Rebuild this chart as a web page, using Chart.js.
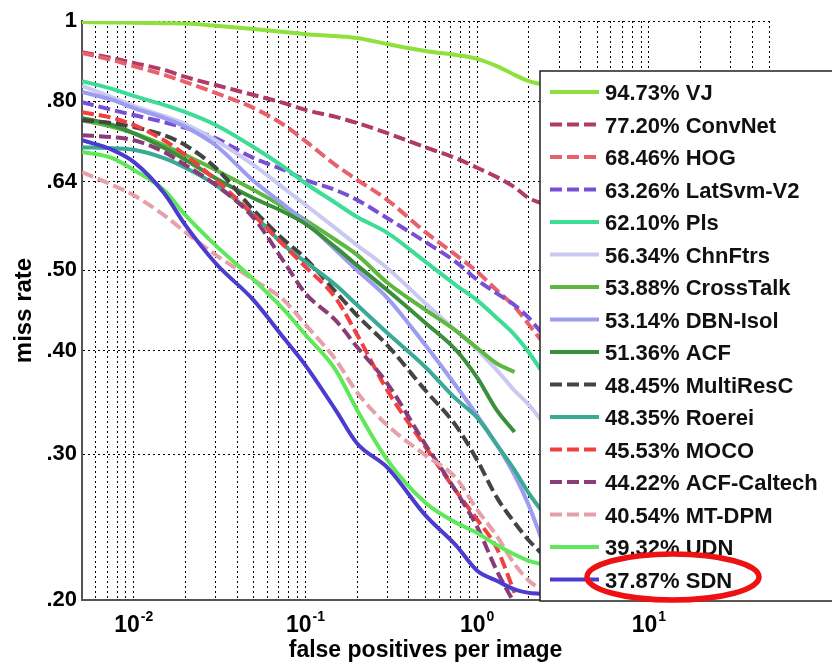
<!DOCTYPE html>
<html>
<head>
<meta charset="utf-8">
<title>Caltech ROC - miss rate vs FPPI</title>
<script src="https://cdn.jsdelivr.net/npm/chart.js@4.4.0/dist/chart.umd.min.js"></script>
<style>
  html, body { margin: 0; padding: 0; background: #fff; }
  #wrap { width: 832px; height: 667px; }
</style>
</head>
<body>
<div id="wrap"><canvas id="rocChart" width="832" height="667"></canvas></div>
<script>
// sample positions on the x axis (false positives per image)
const fppi = [0.005, 0.0075, 0.01, 0.015, 0.02, 0.03, 0.05, 0.075, 0.1, 0.15, 0.2, 0.3, 0.5, 0.75, 1, 1.3, 1.65, 2, 2.35];

const methods = ['VJ', 'ConvNet', 'HOG', 'LatSvm-V2', 'Pls', 'ChnFtrs', 'CrossTalk', 'DBN-Isol',
  'ACF', 'MultiResC', 'Roerei', 'MOCO', 'ACF-Caltech', 'MT-DPM', 'UDN', 'SDN'];
const logAvgMiss = [94.73, 77.20, 68.46, 63.26, 62.10, 56.34, 53.88, 53.14,
  51.36, 48.45, 48.35, 45.53, 44.22, 40.54, 39.32, 37.87];
const lineColors = ['#8ee03c', '#b03a6a', '#e8606a', '#7a4fd8', '#3ddc97', '#c9c9f2', '#5cb840', '#9c9cf0',
  '#3a8f3a', '#444444', '#3aaa94', '#f04040', '#8a3c78', '#e6a0aa', '#5ee85a', '#4b3ccf'];
const dashed = [false, true, true, true, false, false, false, false,
  false, true, false, true, true, true, false, false];

// miss rate per method at each fppi sample (null = curve already ended)
const missVJ        = [0.997, 0.996, 0.995, 0.994, 0.993, 0.987, 0.978, 0.970, 0.964, 0.959, 0.954, 0.938, 0.920, 0.910, 0.900, 0.882, 0.861, 0.846, 0.839];
const missConvNet   = [0.917, 0.902, 0.890, 0.873, 0.856, 0.837, 0.814, 0.796, 0.781, 0.766, 0.753, 0.732, 0.704, 0.683, 0.665, 0.648, 0.630, 0.611, 0.603];
const missHOG       = [0.915, 0.897, 0.882, 0.861, 0.844, 0.819, 0.785, 0.749, 0.716, 0.670, 0.643, 0.608, 0.556, 0.522, 0.498, 0.473, 0.452, 0.430, 0.412];
const missLatSvm    = [0.798, 0.781, 0.770, 0.755, 0.743, 0.722, 0.683, 0.661, 0.643, 0.625, 0.608, 0.578, 0.541, 0.512, 0.487, 0.469, 0.454, 0.438, 0.421];
const missPls       = [0.846, 0.828, 0.812, 0.792, 0.776, 0.749, 0.704, 0.666, 0.637, 0.603, 0.580, 0.555, 0.512, 0.480, 0.460, 0.438, 0.418, 0.398, 0.379];
const missChnFtrs   = [0.835, 0.809, 0.790, 0.768, 0.751, 0.718, 0.670, 0.628, 0.600, 0.562, 0.536, 0.503, 0.456, 0.423, 0.401, 0.379, 0.358, 0.344, 0.330];
const missCrossTalk = [0.759, 0.745, 0.732, 0.708, 0.689, 0.661, 0.625, 0.596, 0.575, 0.544, 0.522, 0.483, 0.448, 0.423, 0.403, 0.386, 0.377, null, null];
const missDBNIsol   = [0.821, 0.803, 0.785, 0.764, 0.745, 0.708, 0.641, 0.600, 0.572, 0.529, 0.500, 0.463, 0.406, 0.363, 0.334, 0.308, 0.283, 0.260, 0.238];
const missACF       = [0.764, 0.749, 0.732, 0.703, 0.680, 0.646, 0.611, 0.588, 0.569, 0.533, 0.507, 0.473, 0.432, 0.401, 0.371, 0.339, 0.319, null, null];
const missMultiResC = [0.759, 0.753, 0.745, 0.728, 0.708, 0.665, 0.591, 0.544, 0.517, 0.471, 0.441, 0.406, 0.358, 0.325, 0.295, 0.266, 0.248, 0.236, 0.228];
const missRoerei    = [0.704, 0.702, 0.699, 0.683, 0.665, 0.634, 0.583, 0.536, 0.512, 0.480, 0.454, 0.420, 0.382, 0.350, 0.332, 0.308, 0.287, 0.269, 0.257];
const missMOCO      = [0.776, 0.764, 0.749, 0.718, 0.689, 0.643, 0.583, 0.536, 0.505, 0.463, 0.418, 0.358, 0.306, 0.271, 0.250, 0.231, 0.204, null, null];
const missACFCal    = [0.728, 0.724, 0.718, 0.695, 0.670, 0.634, 0.578, 0.512, 0.469, 0.435, 0.404, 0.365, 0.308, 0.271, 0.245, 0.217, 0.198, null, null];
const missMTDPM     = [0.657, 0.634, 0.616, 0.583, 0.556, 0.522, 0.487, 0.460, 0.430, 0.390, 0.356, 0.325, 0.299, 0.281, 0.257, 0.239, 0.221, 0.211, 0.206];
const missUDN       = [0.695, 0.683, 0.661, 0.625, 0.583, 0.536, 0.487, 0.448, 0.418, 0.379, 0.339, 0.295, 0.262, 0.248, 0.241, 0.233, 0.227, 0.223, 0.221];
const missSDN       = [0.718, 0.699, 0.676, 0.620, 0.567, 0.510, 0.460, 0.414, 0.384, 0.339, 0.309, 0.289, 0.253, 0.233, 0.217, 0.211, 0.206, 0.204, 0.2035];

const missRates = [missVJ, missConvNet, missHOG, missLatSvm, missPls, missChnFtrs, missCrossTalk, missDBNIsol,
  missACF, missMultiResC, missRoerei, missMOCO, missACFCal, missMTDPM, missUDN, missSDN];

// axis ticks
const yTicks = [1, 0.8, 0.64, 0.5, 0.4, 0.3, 0.2];
const yTickLabels = ['1', '.80', '.64', '.50', '.40', '.30', '.20'];
const xDecades = [-2, -1, 0, 1];
const xMin = 0.005, xMax = 50;

const FONT = '"Liberation Sans", Arial, sans-serif';

// dotted vertical grid at every 1..9 x 10^k inside the range
const xGrid = [];
for (let e = -3; e <= 1; e++) {
  for (let m = 1; m <= 9; m++) {
    const v = m * Math.pow(10, e);
    if (v >= xMin - 1e-9 && v <= xMax + 1e-9) xGrid.push(v);
  }
}

const datasets = methods.map((name, i) => ({
  label: name,
  data: fppi.map((f, j) => ({ x: f, y: missRates[i][j] })).filter(p => p.y !== null),
  borderColor: lineColors[i],
  borderWidth: 4,
  borderDash: dashed[i] ? [12, 5] : [],
  pointRadius: 0,
  fill: false,
  cubicInterpolationMode: 'monotone',
  order: methods.length - 1 - i   // later methods drawn on top
}));

// x tick labels as 10 with a raised exponent
const decadeLabels = {
  id: 'decadeLabels',
  afterDraw(chart) {
    const { ctx, scales: { x } } = chart;
    ctx.save();
    ctx.fillStyle = '#000';
    ctx.textBaseline = 'alphabetic';
    ctx.textAlign = 'left';
    xDecades.forEach(e => {
      const px = x.getPixelForValue(Math.pow(10, e));
      const sup = String(e);
      ctx.font = 'bold 23px ' + FONT;
      const wb = ctx.measureText('10').width;
      ctx.font = 'bold 14px ' + FONT;
      const ws = ctx.measureText(sup).width;
      const left = px - (wb + 1 + ws) / 2;
      ctx.font = 'bold 23px ' + FONT;
      ctx.fillText('10', left, 632);
      ctx.font = 'bold 14px ' + FONT;
      ctx.fillText(sup, left + wb + 1, 621);
    });
    ctx.restore();
  }
};

// boxed legend inside the plot plus the red highlight round SDN
const legendBox = {
  id: 'legendBox',
  afterDraw(chart) {
    const ctx = chart.ctx;
    const boxLeft = 540, boxTop = 71, boxBottom = 601;
    const rowTop = 92, rowStep = 32.5;
    ctx.save();
    ctx.fillStyle = '#fff';
    ctx.fillRect(boxLeft, boxTop, 300, boxBottom - boxTop);
    ctx.strokeStyle = '#222';
    ctx.lineWidth = 1.5;
    ctx.strokeRect(boxLeft, boxTop, 300, boxBottom - boxTop);

    ctx.font = 'bold 22px ' + FONT;
    ctx.textBaseline = 'alphabetic';
    ctx.textAlign = 'left';
    methods.forEach((name, i) => {
      const y = rowTop + rowStep * i;
      ctx.beginPath();
      ctx.strokeStyle = lineColors[i];
      ctx.lineWidth = 4;
      ctx.setLineDash(dashed[i] ? [12, 5] : []);
      ctx.moveTo(550, y);
      ctx.lineTo(599, y);
      ctx.stroke();
      ctx.setLineDash([]);
      ctx.fillStyle = '#111';
      ctx.fillText(logAvgMiss[i].toFixed(2) + '% ' + name, 605, y + 8);
    });

    // highlight ring
    ctx.beginPath();
    ctx.strokeStyle = '#ee1111';
    ctx.lineWidth = 5.5;
    ctx.ellipse(673, 577, 86, 23, 0, 0, Math.PI * 2);
    ctx.stroke();
    ctx.restore();
  }
};

const ctx = document.getElementById('rocChart').getContext('2d');

const rocChart = new Chart(ctx, {
  type: 'line',
  data: { datasets: datasets },
  options: {
    responsive: false,
    animation: false,
    layout: { padding: { top: 21, right: 63, left: 0, bottom: 0 } },
    plugins: {
      legend: { display: false },
      tooltip: { enabled: false }
    },
    elements: { line: { borderJoinStyle: 'round' } },
    scales: {
      x: {
        type: 'logarithmic',
        min: xMin,
        max: xMax,
        afterBuildTicks: scale => { scale.ticks = xGrid.map(v => ({ value: v })); },
        afterFit: scale => { scale.height = 67; },
        ticks: { display: false },
        grid: { color: '#000', lineWidth: 1, drawTicks: false },
        border: { display: true, color: '#555', width: 2, dash: [2, 3] },
        title: {
          display: true,
          text: 'false positives per image',
          color: '#000',
          font: { family: FONT, size: 23, weight: 'bold' },
          padding: { top: 0, bottom: 3 }
        }
      },
      y: {
        type: 'logarithmic',
        min: 0.2,
        max: 1,
        afterBuildTicks: scale => { scale.ticks = yTicks.map(v => ({ value: v })); },
        afterFit: scale => { scale.width = 82; },
        ticks: {
          autoSkip: false,
          padding: 5,
          color: '#000',
          font: { family: FONT, size: 22, weight: 'bold' },
          callback: value => yTickLabels[yTicks.indexOf(value)]
        },
        grid: { color: '#000', lineWidth: 1, drawTicks: false },
        border: { display: true, color: '#555', width: 2, dash: [2, 3] },
        title: {
          display: true,
          text: 'miss rate',
          color: '#000',
          font: { family: FONT, size: 24, weight: 'bold' },
          padding: { top: 10, bottom: 0 }
        }
      }
    }
  },
  plugins: [decadeLabels, legendBox]
});
</script>
</body>
</html>
